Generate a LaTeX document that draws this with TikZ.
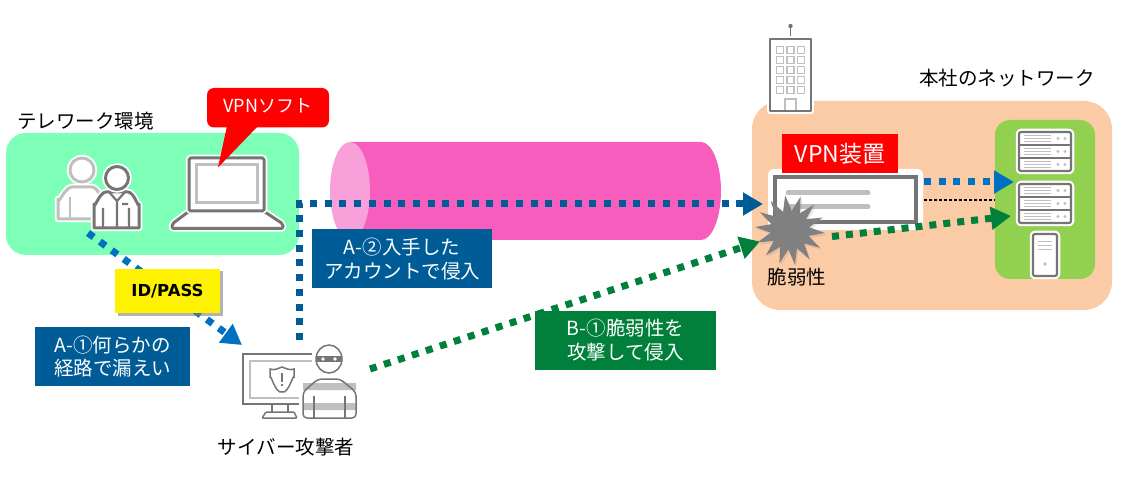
\documentclass[tikz,border=0pt]{standalone}
\usepackage{fontspec}
\setmainfont{Noto Sans CJK JP}
\newfontfamily\idfont{DejaVu Sans}
\usetikzlibrary{arrows.meta,shapes.geometric,shadows}
\definecolor{envgreen}{HTML}{7DFFB8}
\definecolor{hqorange}{HTML}{FBCBA6}
\definecolor{srvgreen}{HTML}{92D050}
\definecolor{tunnelpink}{HTML}{F75DBD}
\definecolor{tunnelcap}{HTML}{F9A0DA}
\definecolor{navyblue}{HTML}{005C96}
\definecolor{linkblue}{HTML}{0070C0}
\definecolor{linkgreen}{HTML}{00803A}
\definecolor{iconline}{HTML}{757575}
\definecolor{iconlight}{HTML}{BFBFBF}
\definecolor{burstgray}{HTML}{808080}
\tikzset{
  x=1pt,y=-1pt,
  txt/.style={inner sep=0pt,align=center,font=\fontsize{19.5}{23.5}\selectfont},
  tag/.style={txt,text=white,fill=#1,minimum height=59pt},
  area/.style={fill=#1,inner sep=0pt},
  halo/.style={preaction={draw=white,line width=6.5pt,line join=round}},
  icon/.style={halo,fill=white,draw=iconline,line width=3pt,line join=round},
  iconlt/.style={halo,fill=white,draw=iconlight,line width=3pt,line join=round},
  flow/.style={draw=#1,line width=7pt,dash pattern=on 7pt off 7.7pt,-{Triangle[length=20pt,width=22pt]}},
  serverrack/.pic={
    \draw[icon,line width=2.2pt,rounded corners=2pt] (0,0) rectangle (52,39);
    \draw[iconline,line width=1.6pt] (0,13) -- (52,13) (0,26) -- (52,26);
    \foreach \r in {0,13,26} {
      \draw[iconlight,line width=1pt] (5,\r+4) -- (32,\r+4) (5,\r+7) -- (32,\r+7) (5,\r+10) -- (32,\r+10);
      \fill[iconlight] (39,\r+6.5) circle (1.6) (46,\r+6.5) circle (1.6);
    }
  },
}
\begin{document}
\begin{tikzpicture}
  \useasboundingbox (0,0) rectangle (1124,486);
  \node[area=envgreen,rounded corners=20pt,minimum width=293pt,minimum height=122pt] (telework) at (152.5,194) {};
  \node[area=hqorange,rounded corners=28pt,minimum width=360pt,minimum height=209pt] (hq) at (932,205.5) {};
  \node[area=srvgreen,rounded corners=15pt,minimum width=100pt,minimum height=159pt] (srvpanel) at (1045,199.5) {};
  \node[txt] (telelabel) at (85.5,121) {テレワーク環境};
  \node[txt] (hqlabel) at (1007,78) {本社のネットワーク};
  % tunnel
  \fill[tunnelpink] (350,142) -- (701,142) arc[start angle=-90,end angle=90,x radius=20,y radius=49] -- (350,240) -- cycle;
  \fill[tunnelcap] (350,191) ellipse [x radius=20,y radius=49];
  % telework icons
  \draw[iconlt] (58,219) -- (58,199) to[out=-90,in=180] (72,187) -- (92,187) to[out=0,in=-90] (104,199) -- (104,219) -- cycle;
  \draw[iconlight,line width=2.4pt] (70,197) -- (70,219);
  \draw[iconlt] (82,170) circle (12);
  \draw[icon] (94,228) -- (94,204) to[out=-90,in=180] (106,192) -- (128,192) to[out=0,in=-90] (139,204) -- (139,228) -- cycle;
  \draw[icon] (117,178) circle (11.5);
  \draw[iconline,line width=2.2pt] (109,192) -- (117,201) -- (125,192) (117,201) -- (117,228)
    (103,208) -- (103,228) (129,208) -- (129,228) (122,204) -- (128,204);
  \draw[icon,rounded corners=2pt] (188,212) -- (172,224) -- (172,228.5) -- (283,228.5) -- (283,224) -- (265,212) -- cycle;
  \draw[icon,rounded corners=1.5pt] (189,158) rectangle (264,211);
  \draw[iconlight,line width=3pt] (196,165) rectangle (257,203);
  \coordinate (softtip) at (218,167.5);
  \fill[red,rounded corners=7pt] (207,88) rectangle (329,127.5);
  \fill[red] (softtip) -- (227,126) -- (258,126) -- cycle;
  \node[txt,text=white,font=\fontsize{18}{22}\selectfont] (softlabel) at (268,106) {VPNソフト};
  % building
  \draw[iconline,line width=1.5pt] (790.5,39) -- (790.5,26);
  \fill[iconline] (790.5,26) circle (2.2);
  \draw[icon,line width=2pt,fill=white] (770,39) rectangle (811,111);
  \foreach \yw in {50,60,70,80,90} {
    \foreach \xw in {780,790.5,801} {
      \draw[iconlight,line width=1.2pt] (\xw-3.5,\yw-3.2) rectangle (\xw+3.5,\yw+3.2);
    }
  }
  \draw[iconlight,line width=1.3pt] (785,110) -- (785,99) -- (796,99) -- (796,110);
  % device
  \fill[white,rounded corners=6pt] (768,169) rectangle (923,230);
  \draw[iconline,line width=4.5pt,fill=white] (775,177) rectangle (916,222);
  \draw[iconlight,line width=5pt,line cap=round] (788,193) -- (868,193) (788,207) -- (868,207);
  \node[area=red,txt,text=white,font=\fontsize{23}{27}\selectfont,minimum width=116pt,minimum height=39pt] (vpnbox) at (840,153.5) {VPN装置};
  % servers
  \path (1019,132) pic {serverrack};
  \path (1019,184) pic {serverrack};
  \draw[icon,line width=2.2pt,rounded corners=2pt] (1033,234) rectangle (1057,276);
  \draw[iconlight,line width=1pt] (1038,242) -- (1052,242) (1038,246) -- (1052,246) (1038,250) -- (1052,250);
  \fill[iconlight] (1045,264) circle (1.8);
  % attacker
  \draw[iconline,line width=1.5pt] (312,354) -- (243,354) -- (243,404) -- (299,404);
  \draw[iconlight,line width=1.5pt] (312,361) -- (250,361) -- (250,398) -- (299,398);
  \draw[iconline,line width=1.5pt] (272,404) -- (272,412) (288,404) -- (288,412);
  \draw[iconline,line width=1.5pt,rounded corners=1pt] (266,412) -- (294,412) -- (297,418) -- (262,418) -- cycle;
  \draw[iconline,line width=1.5pt] (270,369) to[out=-20,in=200] (282,367) to[out=-20,in=200] (294,369) -- (294,378) to[out=90,in=-20] (282,392) to[out=200,in=90] (270,378) -- cycle;
  \draw[iconline,line width=1.5pt] (282,373) -- (282,382) (282,384) -- (282,386);
  \fill[iconlight] (303,383) rectangle (356,390) (303,403) rectangle (356,410);
  \draw[iconline,line width=1.5pt,rounded corners=4pt] (303,418) -- (303,392) -- (318,379) -- (340,379) -- (356,392) -- (356,418) -- cycle;
  \draw[iconline,line width=1.5pt] (314,396) -- (314,418) (345,396) -- (345,418);
  \draw[iconline,line width=1.5pt,fill=white] (329,359) ellipse [x radius=13,y radius=14];
  \fill[iconline] (316,356) rectangle (342,362);
  \fill[white] (323,359) circle (1.8) (335,359) circle (1.8);
  \node[txt] (atklabel) at (286,447) {サイバー攻撃者};
  % connectors
  \coordinate (leakstart) at (88,233);
  \coordinate (leakend) at (242,345);
  \coordinate (accstart) at (299,340);
  \coordinate (accend) at (763,204);
  \coordinate (vulstart) at (370,369);
  \coordinate (vulend) at (760,241.5);
  \coordinate (lanstart) at (832,236.5);
  \coordinate (lanend) at (1011,216);
  \coordinate (vpnout) at (924,182);
  \coordinate (srvin) at (1014,182);
  \coordinate (dotstart) at (924,200);
  \coordinate (dotend) at (995,200);
  \begin{scope}
    \draw[flow=linkblue] (leakstart) -- (leakend);
    \draw[flow=navyblue] (accstart) |- (accend);
    \draw[flow=linkgreen] (vulstart) -- (vulend);
    \draw[flow=linkgreen,dash pattern=on 7pt off 7pt] (lanstart) -- (lanend);
    \draw[flow=linkblue] (vpnout) -- (srvin);
    \draw[line width=2pt,dash pattern=on 2.5pt off 2.5pt] (dotstart) -- (dotend);
  \end{scope}
  \node[star,star points=14,star point ratio=1.8,minimum size=70pt,inner sep=0pt,fill=burstgray,rotate=8,drop shadow={shadow xshift=1.5pt,shadow yshift=-2pt,opacity=.2}] (burst) at (790,230) {};
  \node[txt] (burstlabel) at (797,277) {脆弱性};
  \node[tag=navyblue,minimum width=180pt] (acctag) at (402,259) {A-②入手した\\アカウントで侵入};
  \node[tag=navyblue,minimum width=155pt] (leaktag) at (112.5,356.5) {A-①何らかの\\経路で漏えい};
  \node[tag=linkgreen,minimum width=181pt] (vultag) at (625.5,340) {B-①脆弱性を\\攻撃して侵入};
  \node[fill=yellow,minimum width=105pt,minimum height=44pt,inner sep=0pt,font=\idfont\bfseries\fontsize{16.5}{20}\selectfont,drop shadow={shadow xshift=2.5pt,shadow yshift=-2.5pt,opacity=.6}] (idtag) at (167.5,291) {ID/PASS};
\end{tikzpicture}
\end{document}
